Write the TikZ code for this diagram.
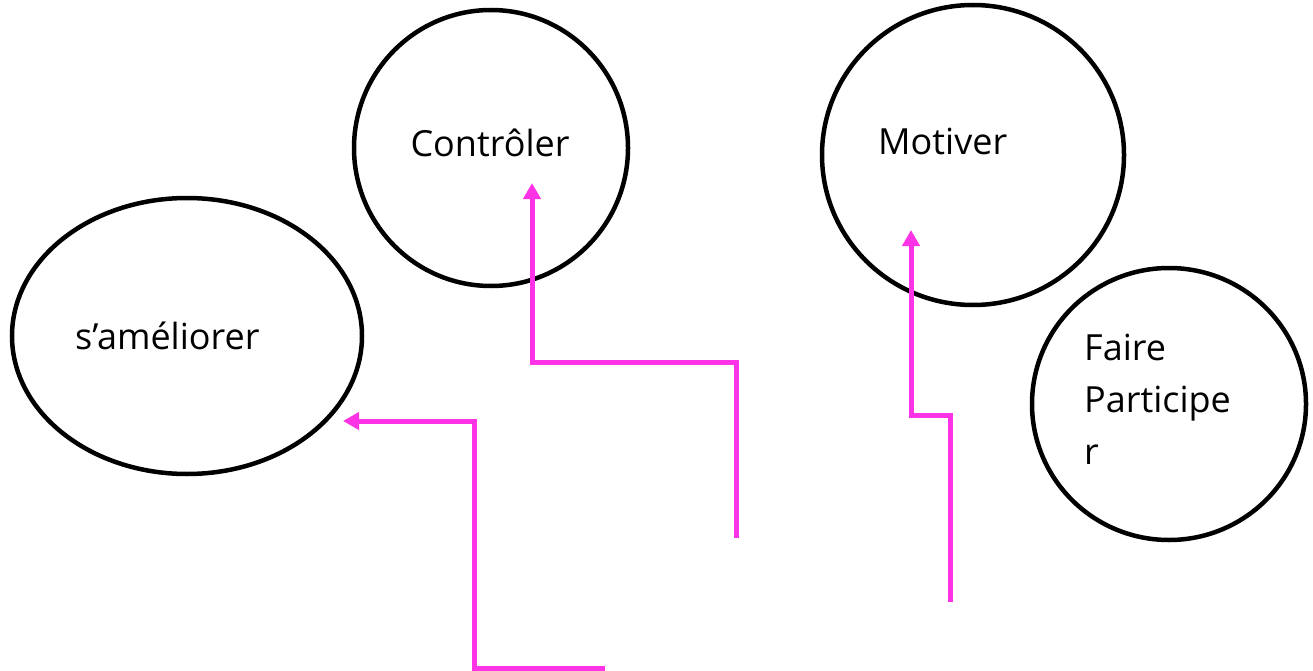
\documentclass[tikz,border=0pt]{standalone}
\usepackage{fontspec}
\setmainfont{Open Sans}
\usetikzlibrary{shapes.geometric,arrows.meta}
\definecolor{pinkline}{RGB}{255,51,230}
\tikzset{
  bubble/.style={draw=black,line width=4.5pt,ellipse,inner sep=0pt},
  lbl/.style={font=\fontsize{36}{52}\selectfont,inner sep=0pt,align=left},
  flow/.style={draw=pinkline,line width=5pt,-{Triangle[length=16pt,width=17pt]}}
}
\begin{document}
\begin{tikzpicture}[x=1pt,y=-1pt]
\useasboundingbox (0,0) rectangle (1313,671);
\node[bubble,minimum width=274pt,minimum height=276pt] (ctrl) at (491,148) {};
\node[bubble,minimum width=302pt,minimum height=300pt] (motiv) at (973,155) {};
\node[bubble,minimum width=350pt,minimum height=276pt] (amel) at (187,336) {};
\node[bubble,minimum width=274pt,minimum height=272pt] (faire) at (1169,404) {};
\node[lbl] (tctrl) at (490,143) {Contrôler};
\node[lbl,anchor=west] (tmotiv) at (878,141) {Motiver};
\node[lbl,anchor=west] (tamel) at (75,336) {s’améliorer};
\node[lbl,anchor=north west] (tfaire) at (1084,334) {Faire\\Participe\\r};
\coordinate (s1) at (605,668);
\coordinate (e1) at (343,421);
\coordinate (s2) at (736,538);
\coordinate (e2) at (532,183);
\coordinate (s3) at (950,602);
\coordinate (e3) at (911,230);
\draw[flow] (s1) -- (474,668) -- (474,421) -- (e1);
\draw[flow] (s2) -- (736,362) -- (532,362) -- (e2);
\draw[flow] (s3) -- (950,415) -- (911,415) -- (e3);
\end{tikzpicture}
\end{document}
